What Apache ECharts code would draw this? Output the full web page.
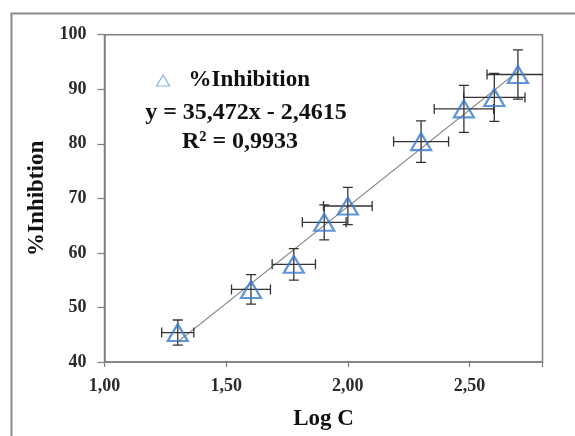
<!DOCTYPE html>
<html><head><meta charset="utf-8">
<script src="https://cdn.jsdelivr.net/npm/echarts@6/dist/echarts.min.js"></script>
<style>html,body{margin:0;padding:0;background:#fff}#c{width:575px;height:436px}</style>
</head><body><div id="c"></div>
<script>
// ---- data ----
const logC = [1.301, 1.602, 1.778, 1.903, 2.000, 2.301, 2.477, 2.602, 2.699];
const inhibition = [45.4, 53.3, 57.9, 65.6, 68.6, 80.4, 86.4, 88.5, 92.7];
const yErr = [2.3, 2.7, 2.9, 3.2, 3.4, 3.8, 4.3, 4.4, 4.5];
const xErr = [0.066, 0.080, 0.089, 0.090, 0.100, 0.113, 0.122, 0.126, 0.127];
const trendX = [1.301, 2.699];
const trendY = [43.69, 93.28];
const xTickValues = [1.0, 1.5, 2.0, 2.5];
const xTickLabels = ['1,00', '1,50', '2,00', '2,50'];
const seriesName = '%Inhibition';
const equationText = 'y = 35,472x - 2,4615';
const r2Text = 'R² = 0,9933';
const xAxisTitle = 'Log C';
const yAxisTitle = '%Inhibtion';

const FONT = "'Liberation Serif', 'DejaVu Serif', serif";
const BLUE = '#3a7bcc';
const GRAY = '#7f7f7f';

const pts = logC.map((x, i) => [x, inhibition[i]]);
const errData = logC.map((x, i) => [x, inhibition[i], xErr[i], yErr[i]]);
const trendData = trendX.map((x, i) => [x, trendY[i]]);

const chart = echarts.init(document.getElementById('c'), null, {renderer: 'canvas'});
chart.setOption({
  animation: false,
  backgroundColor: '#fff',
  grid: {left: 104.5, top: 34.7, right: 32.5, bottom: 68.7, show: true,
         borderColor: GRAY, borderWidth: 1.5, containLabel: false},
  legend: {
    data: [{name: seriesName, icon: 'triangle',
            itemStyle: {color: 'rgba(0,0,0,0)', borderColor: '#6a9fe0', borderWidth: 1.2}}],
    left: 151, top: 64, itemWidth: 13, itemHeight: 11,
    textStyle: {fontFamily: FONT, fontSize: 23, fontWeight: 'bold', color: '#111',
                padding: [0, 0, 0, 14]}
  },
  xAxis: {
    type: 'value', min: 1.0, max: 2.8, interval: 0.5,
    name: xAxisTitle, nameLocation: 'middle', nameGap: 46,
    nameTextStyle: {fontFamily: FONT, fontSize: 23, fontWeight: 'bold', color: '#111'},
    axisLine: {show: true, lineStyle: {color: GRAY, width: 1.5}},
    axisTick: {show: true, inside: false, length: 5, lineStyle: {color: GRAY, width: 1.2}},
    splitLine: {show: false},
    axisLabel: {fontFamily: FONT, fontSize: 18, fontWeight: 'bold', color: '#2a2a2a', margin: 15,
      formatter: v => { const k = xTickValues.findIndex(t => Math.abs(t - v) < 1e-6); return k >= 0 ? xTickLabels[k] : ''; }}
  },
  yAxis: {
    type: 'value', min: 40, max: 100, interval: 10,
    name: yAxisTitle, nameLocation: 'middle', nameGap: 56, nameRotate: 90,
    nameTextStyle: {fontFamily: FONT, fontSize: 23, fontWeight: 'bold', color: '#111'},
    axisLine: {show: true, lineStyle: {color: GRAY, width: 1.5}},
    axisTick: {show: true, inside: false, length: 7, lineStyle: {color: GRAY, width: 1.2}},
    splitLine: {show: false},
    axisLabel: {fontFamily: FONT, fontSize: 18, fontWeight: 'bold', color: '#2a2a2a', margin: 18}
  },
  graphic: [
    {type: 'rect', left: 9, top: 11, silent: true, z: -10,
     shape: {x: 0, y: 0, width: 620, height: 500},
     style: {fill: 'none', stroke: '#8a8a8a', lineWidth: 2}},
    {type: 'text', x: 246, y: 113, silent: true,
     style: {text: equationText, fontFamily: FONT, fontSize: 24, fontWeight: 'bold', fill: '#111',
             align: 'center', verticalAlign: 'middle'}},
    {type: 'text', x: 240, y: 142, silent: true,
     style: {text: r2Text, fontFamily: FONT, fontSize: 24, fontWeight: 'bold', fill: '#111',
             align: 'center', verticalAlign: 'middle'}}
  ],
  series: [
    {name: 'trend', type: 'line', data: trendData, showSymbol: false, symbol: 'none',
     lineStyle: {color: GRAY, width: 1.2}, z: 1, silent: true},
    {name: 'errors', type: 'custom', data: errData, clip: true, z: 2, silent: true,
     renderItem: function (params, api) {
       const x = api.value(0), y = api.value(1), ex = api.value(2), ey = api.value(3);
       const top = api.coord([x, y + ey]), bot = api.coord([x, y - ey]);
       const lft = api.coord([x - ex, y]), rgt = api.coord([x + ex, y]);
       const cap = 5;
       const st = {stroke: '#333', lineWidth: 1.3};
       const L = (x1, y1, x2, y2) => ({type: 'line', shape: {x1, y1, x2, y2}, style: st});
       return {type: 'group', children: [
         L(top[0], top[1], bot[0], bot[1]),
         L(top[0] - cap, top[1], top[0] + cap, top[1]),
         L(bot[0] - cap, bot[1], bot[0] + cap, bot[1]),
         L(lft[0], lft[1], rgt[0], rgt[1]),
         L(lft[0], lft[1] - cap, lft[0], lft[1] + cap),
         L(rgt[0], rgt[1] - cap, rgt[0], rgt[1] + cap)
       ]};
     }},
    {name: seriesName, type: 'scatter', data: pts, symbol: 'triangle', symbolSize: [20, 17],
     itemStyle: {color: 'rgba(0,0,0,0)', borderColor: BLUE, borderWidth: 2.2}, z: 3}
  ]
});
</script></body></html>
